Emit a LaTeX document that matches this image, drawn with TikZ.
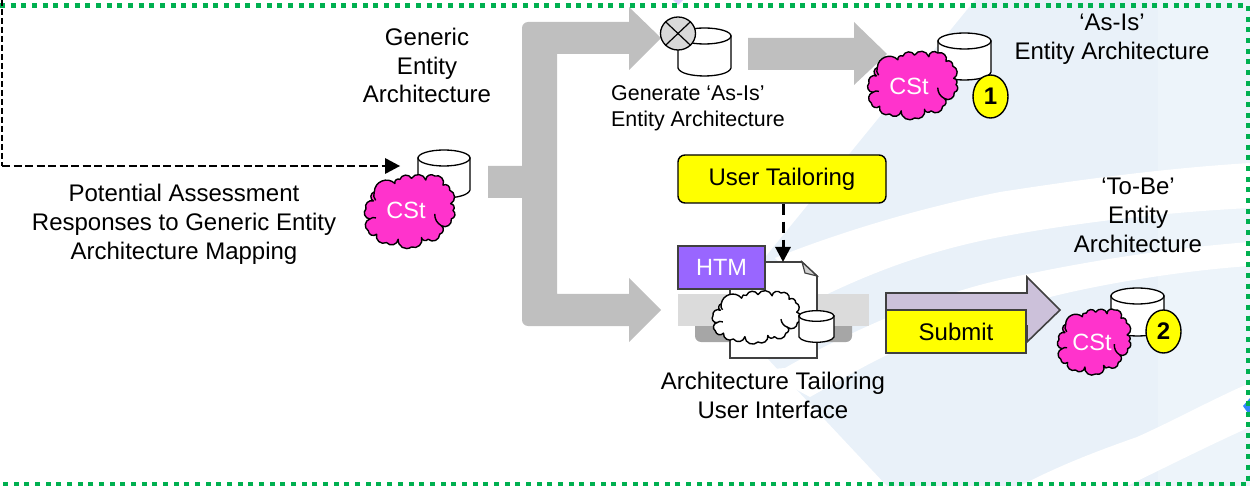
\documentclass[tikz,border=0pt]{standalone}
\usepackage{fontspec}
\setmainfont{Liberation Sans}
\usetikzlibrary{shapes.geometric,arrows.meta}
\definecolor{pale}{HTML}{E9F1F9}
\definecolor{paler}{HTML}{EDF4FA}
\definecolor{bigarrow}{HTML}{BFBFBF}
\definecolor{dotgreen}{HTML}{00B050}
\definecolor{csmag}{HTML}{FF33CC}
\definecolor{htm}{HTML}{9966FF}
\definecolor{lav}{HTML}{CCC1DA}
\definecolor{edge}{HTML}{404040}
\definecolor{yel}{HTML}{FFFF00}
\tikzset{
  lab/.style={align=center,inner sep=0pt,text=black,font=\fontsize{24}{28.8}\selectfont},
  labsmall/.style={align=left,inner sep=0pt,text=black,font=\fontsize{21.4}{26}\selectfont},
  csttext/.style={text=white,font=\fontsize{23.5}{26}\selectfont,inner sep=0pt},
  badge/.style={draw=black,line width=1.4pt,fill=yel,ellipse,inner sep=0pt,font=\bfseries\fontsize{24}{26}\selectfont},
  ybox/.style={fill=yel,inner sep=0pt,font=\fontsize{24}{26}\selectfont},
  dashconn/.style={draw=black,line width=3pt,dash pattern=on 11pt off 7pt,-{Triangle[length=15pt,width=15pt]}},
  greyflow/.style={fill=bigarrow,draw=none},
}
\newcommand{\dbcyl}[7]{% name, xl, xr, topcentre y, bottom side y, line width, ry
  \filldraw[fill=white,draw=black,line width=#6]
    (#2,#4) -- (#2,#5) .. controls (#2+3,#5+1.33*#7) and (#3-3,#5+1.33*#7) .. (#3,#5) -- (#3,#4) -- cycle;
  \filldraw[fill=white,draw=black,line width=#6]
    ({(#2+#3)/2},#4) ellipse ({(#3-#2)/2} and #7);
  \coordinate (#1) at ({(#2+#3)/2},#4);
}
% cloud in a 262 x 210 box: name, left, top, width, height, fill
\newcommand{\bumpcloud}[6]{%
  \begin{scope}[shift={(#2,#3)},x=#4pt/262,y=-#5pt/210,bend angle=66,looseness=1.2,line join=round]
    \filldraw[fill=#6,draw=black,line width=1.4pt]
      (25,47) to[bend left] (87,22) to[bend left] (102,10) to[bend left] (137,7) to[bend left] (180,12)
      to[bend left] (207,0) to[bend left] (232,27) to[bend left] (252,42) to[bend left] (255,82)
      to[bend left] (262,102) to[bend left] (257,127) to[bend left] (227,147) to[bend left] (222,172)
      to[bend left] (187,187) to[bend left] (167,182) to[bend left] (137,210) to[bend left] (97,187)
      to[bend left] (62,197) to[bend left] (32,172) to[bend left] (7,162) to[bend left] (12,127)
      to[bend left] (0,97) to[bend left] (22,74) to[bend left] cycle;
    \draw[black,line width=1.4pt,bend angle=30,looseness=1]
      (12,127) to[bend left] (30,124)
      (207,112) to[bend right] (227,147)
      (25,47) to[bend right] (29,72);
  \end{scope}
  \coordinate (#1) at ({#2+#4/2},{#3+#5/2});
}
\begin{document}
\begin{tikzpicture}[x=1pt,y=-1pt]
\useasboundingbox (0,0) rectangle (1250,486);
% background
\fill[pale] (975,0) -- (722,310) -- (887,486) -- (1250,486) -- (1250,0) -- cycle;
\fill[paler] (1158,0) rectangle (1250,486);
\fill[white] (775,258) .. controls (820,240) and (900,212) .. (1000,192) .. controls (1090,178) and (1170,168) .. (1250,163)
  -- (1250,208) .. controls (1170,212) and (1080,222) .. (1000,237) .. controls (920,252) and (860,278) .. (815,300) -- cycle;
\fill[white] (785,368) .. controls (830,342) and (920,298) .. (1000,280) .. controls (1080,262) and (1170,248) .. (1250,242)
  -- (1250,266) .. controls (1190,270) and (1110,282) .. (1050,297) .. controls (990,312) and (930,332) .. (887,355) .. controls (860,368) and (835,383) .. (810,397) -- (760,370) -- cycle;
\fill[white] (1020,486) .. controls (1060,465) and (1100,450) .. (1137,437) .. controls (1175,420) and (1215,398) .. (1250,383)
  -- (1250,427) .. controls (1210,445) and (1170,465) .. (1127,486) -- cycle;
\fill[htm!30!white] (673,0) -- (683,0) -- (678,5) -- cycle;
\fill[blue!60!cyan!80!white] (1250,398) -- (1243,406) -- (1250,416) -- cycle;
% green dotted frame
\draw[dotgreen,line width=4.4pt,dash pattern=on 5pt off 5.67pt] (0,5.7) -- (1248,5.7) -- (1248,484) -- (0,484);
% big grey flow arrows
\fill[greyflow] (629,7) -- (661,38) -- (629,70) -- (629,54) -- (557,54) -- (557,294) -- (629,294) -- (629,278) -- (661,310) -- (629,342) -- (629,326)
  -- (528,326) arc[start angle=90,end angle=180,radius=6] -- (522,198) -- (488,198) -- (488,166) -- (522,166) -- (522,28) arc[start angle=180,end angle=270,radius=6] -- (629,22) -- cycle;
\fill[greyflow] (748,38) -- (854,38) -- (854,22) -- (887,54) -- (854,85) -- (854,70) -- (748,70) -- cycle;
% labels
\node[lab] (lgen) at (427,65.5) {Generic\\Entity\\Architecture};
\node[lab] (lpot) at (184,224) {Potential Assessment\\Responses to Generic Entity\\Architecture Mapping};
\node[labsmall,anchor=west] (lgenas) at (611,108) {Generate ‘As-Is’\\Entity Architecture};
\node[lab] (lasis) at (1112,39) {‘As-Is’\\Entity Architecture};
\node[lab] (ltobe) at (1138,215.5) {‘To-Be’\\Entity\\Architecture};
\node[lab] (lui) at (773,395.5) {Architecture Tailoring\\User Interface};
% CSt 0
\dbcyl{cyl0}{418}{470}{158}{190}{1.3pt}{8}
\bumpcloud{c0}{366}{176}{87}{71}{csmag}
\node[csttext] (c0t) at (406,210) {CSt};
% middle cylinder with merge circle
\dbcyl{cyl1}{678}{731}{36}{68}{1.3pt}{8}
\node[draw=black,line width=1.3pt,fill=black!15,ellipse,minimum width=35pt,minimum height=33pt,inner sep=0pt] (merge) at (678,33.5) {};
\draw[black,line width=1.2pt] (merge.north west) -- (merge.south east) (merge.north east) -- (merge.south west);
% CSt 1
\dbcyl{cyl2}{938}{991}{41}{72}{1.3pt}{8}
\bumpcloud{c1}{869}{53}{87}{65}{csmag}
\node[csttext] (c1t) at (909,86) {CSt};
\node[badge,minimum width=35pt,minimum height=43pt] (b1) at (990.5,96.5) {1};
% CSt 2
\dbcyl{cyl3}{1111}{1164}{296}{328}{1.3pt}{8}
\bumpcloud{c2}{1059}{310}{70}{64}{csmag}
\node[csttext] (c2t) at (1092,342) {CSt};
\node[badge,minimum width=35pt,minimum height=43pt] (b2) at (1163.5,331.5) {2};
% tailoring UI
\fill[black!35,rounded corners=6pt] (695,315) -- (695,342) -- (852,342) -- (852,315) -- cycle;
\fill[black!14] (678,294) rectangle (869,326);
\coordinate (pagetop) at (783,262);
\filldraw[fill=white,draw=edge,line width=1.6pt] (730,262) -- (802,262) -- (817,276) -- (817,358) -- (730,358) -- cycle;
\filldraw[fill=black!18,draw=edge,line width=1.2pt] (802,262) -- (817,276) -- (805,273) -- cycle;
\bumpcloud{cw}{713}{293}{86}{49}{white}
\dbcyl{cyl4}{799}{834}{316}{337}{1.3pt}{5.3}
\node[draw=edge,line width=1.6pt,fill=htm,text=white,inner sep=0pt,minimum width=87pt,minimum height=43pt,font=\fontsize{23.5}{26}\selectfont] (html) at (721.5,267.5) {HTM};
% user tailoring
\node[ybox,draw=black,line width=1.4pt,rounded corners=7pt,minimum width=208pt,minimum height=48pt] (ut) at (782,179) {User Tailoring};
\draw[dashconn] (ut.south -| pagetop) -- (pagetop);
% dashed input
\coordinate (left0) at (2,0);
\coordinate (corner0) at (2,166);
\coordinate (cin) at (400,166);
\draw[black,line width=1.4pt,dash pattern=on 6pt off 3pt] (left0) -- (corner0);
\draw[black,line width=2.6pt,dash pattern=on 8pt off 3.5pt] (corner0) -- (385,166);
\fill[black] (385,158) -- (cin) -- (385,174) -- cycle;
% submit
\filldraw[fill=lav,draw=edge,line width=1.6pt] (886,293) -- (1027,293) -- (1027,277) -- (1060,310) -- (1027,342) -- (1027,326) -- (886,326) -- cycle;
\node[ybox,draw=edge,line width=1.6pt,minimum width=140pt,minimum height=43pt] (sub) at (956,331.5) {Submit};
\end{tikzpicture}
\end{document}
